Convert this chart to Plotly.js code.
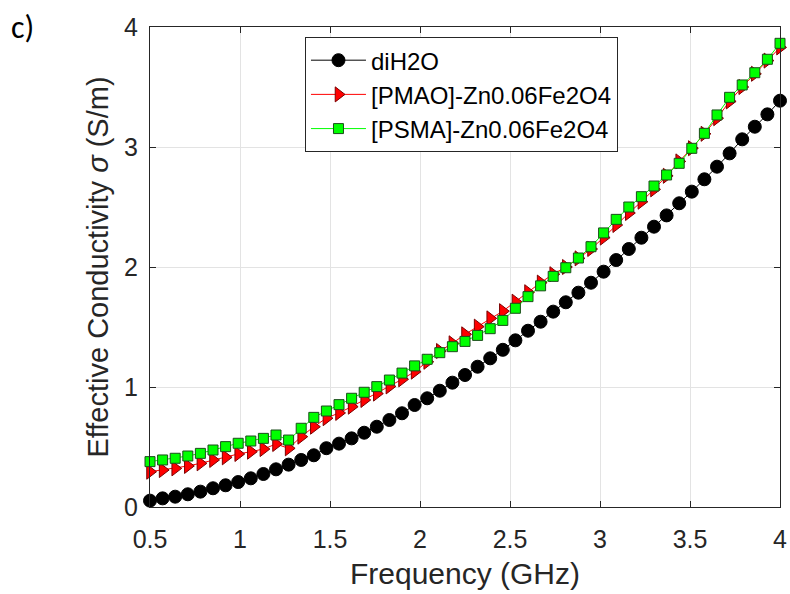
<!DOCTYPE html>
<html>
<head>
<meta charset="utf-8">
<script src="https://cdn.plot.ly/plotly-3.0.1.min.js"></script>
<style>html,body{margin:0;padding:0;background:#fff;}#chart{width:790px;height:594px;}</style>
</head>
<body>
<div id="chart"></div>
<script>
// Frequency points (GHz): 0.5 to 4.0 in 0.07 steps
const freq = [0.50,0.57,0.64,0.71,0.78,0.85,0.92,0.99,1.06,1.13,1.20,1.27,1.34,1.41,1.48,1.55,1.62,1.69,1.76,1.83,1.90,1.97,2.04,2.11,2.18,2.25,2.32,2.39,2.46,2.53,2.60,2.67,2.74,2.81,2.88,2.95,3.02,3.09,3.16,3.23,3.30,3.37,3.44,3.51,3.58,3.65,3.72,3.79,3.86,3.93,4.00];

const diH2O = [0.053,0.072,0.086,0.106,0.128,0.156,0.181,0.208,0.239,0.275,0.314,0.353,0.392,0.431,0.490,0.528,0.572,0.619,0.669,0.725,0.781,0.850,0.906,0.969,1.036,1.100,1.169,1.239,1.310,1.389,1.469,1.544,1.628,1.706,1.786,1.869,1.961,2.058,2.150,2.244,2.336,2.430,2.531,2.628,2.731,2.836,2.947,3.064,3.169,3.272,3.386];

const pmao = [0.294,0.308,0.322,0.342,0.364,0.392,0.414,0.442,0.461,0.483,0.525,0.489,0.586,0.669,0.740,0.784,0.836,0.892,0.945,1.005,1.064,1.128,1.210,1.300,1.364,1.439,1.503,1.572,1.632,1.711,1.790,1.870,1.940,2.000,2.072,2.150,2.245,2.350,2.450,2.544,2.647,2.760,2.880,2.990,3.110,3.240,3.380,3.500,3.610,3.720,3.830];

const psma = [0.378,0.392,0.406,0.425,0.447,0.475,0.503,0.531,0.550,0.572,0.600,0.558,0.656,0.747,0.800,0.853,0.906,0.956,1.003,1.058,1.116,1.176,1.231,1.286,1.336,1.380,1.430,1.486,1.555,1.656,1.753,1.843,1.922,1.994,2.075,2.169,2.284,2.397,2.500,2.586,2.675,2.767,2.864,2.989,3.114,3.267,3.414,3.517,3.619,3.731,3.864];

const seriesNames = ['diH2O', '[PMAO]-Zn0.06Fe2O4', '[PSMA]-Zn0.06Fe2O4'];
const xTicks = [0.5,1,1.5,2,2.5,3,3.5,4];
const yTicks = [0,1,2,3,4];

const font = 'Liberation Sans, Arial, Helvetica, sans-serif';
const axisColor = '#262626';

const traces = [
  {
    x: freq, y: diH2O, name: seriesNames[0], type: 'scatter', mode: 'lines+markers',
    line: {color: '#000000', width: 1},
    marker: {symbol: 'circle', size: 13, color: '#000000', line: {color: '#000000', width: 1}},
    cliponaxis: false
  },
  {
    x: freq, y: pmao, name: seriesNames[1], type: 'scatter', mode: 'lines+markers',
    line: {color: '#ff0000', width: 1},
    marker: {symbol: 'triangle-right', size: 13, color: '#ff0000', line: {color: '#7a0000', width: 1}},
    cliponaxis: false
  },
  {
    x: freq, y: psma, name: seriesNames[2], type: 'scatter', mode: 'lines+markers',
    line: {color: '#00ff00', width: 1},
    marker: {symbol: 'square', size: 10, color: '#00ff00', line: {color: '#1a4d1a', width: 1}},
    cliponaxis: false
  }
];

const layout = {
  width: 790, height: 594,
  margin: {l: 150, r: 10, t: 27, b: 87},
  paper_bgcolor: '#ffffff', plot_bgcolor: '#ffffff',
  font: {family: font, color: axisColor},
  showlegend: true,
  legend: {
    x: 0.246, y: 0.979, xanchor: 'left', yanchor: 'top',
    bgcolor: '#ffffff', bordercolor: axisColor, borderwidth: 1,
    font: {family: font, size: 24, color: '#000000'},
    itemwidth: 55, tracegroupgap: 0
  },
  xaxis: {
    range: [0.5, 4], tickvals: xTicks, ticktext: xTicks.map(String),
    ticks: 'inside', ticklen: 6, tickcolor: axisColor, tickwidth: 1,
    showline: true, linecolor: axisColor, linewidth: 1, mirror: 'ticks',
    showgrid: true, gridcolor: '#e3e3e3', gridwidth: 1, zeroline: false,
    tickfont: {family: font, size: 25, color: axisColor},
    ticklabelstandoff: 10,
    title: {text: 'Frequency (GHz)', font: {family: font, size: 30, color: axisColor}, standoff: 10}
  },
  yaxis: {
    range: [0, 4], tickvals: yTicks, ticktext: yTicks.map(String),
    ticks: 'inside', ticklen: 6, tickcolor: axisColor, tickwidth: 1,
    showline: true, linecolor: axisColor, linewidth: 1, mirror: 'ticks',
    showgrid: true, gridcolor: '#e3e3e3', gridwidth: 1, zeroline: false,
    tickfont: {family: font, size: 25, color: axisColor},
    ticklabelstandoff: 6,
    title: {text: 'Effective Conductivity <i>σ</i> (S/m)', font: {family: font, size: 29, color: axisColor}, standoff: 6}
  },
  annotations: [{
    text: 'c)', xref: 'paper', yref: 'paper', x: -0.224, y: 1.0,
    xanchor: 'left', yanchor: 'middle', showarrow: false,
    font: {family: 'Carlito, Liberation Sans, Arial, sans-serif', size: 32, color: '#000000'}
  }]
};

Plotly.newPlot('chart', traces, layout, {displayModeBar: false, staticPlot: true});
</script>
</body>
</html>
